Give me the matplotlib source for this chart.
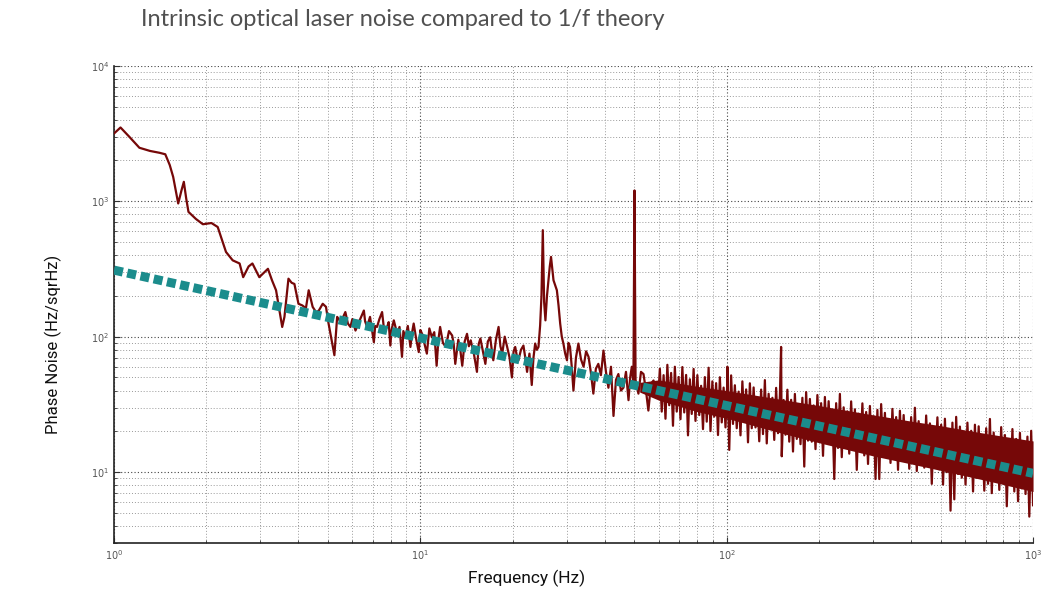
import numpy as np
import matplotlib
matplotlib.use("Agg")
import matplotlib.pyplot as plt
from matplotlib.ticker import LogLocator

# measured trace, 1 - 60 Hz (freq, amplitude)
low_f = [1.00, 1.05, 1.12, 1.21, 1.31, 1.41, 1.47, 1.52, 1.56, 1.62, 1.66, 1.69, 1.72, 1.75,
         1.85, 1.95, 2.08, 2.18, 2.25, 2.32, 2.44, 2.57, 2.64, 2.75, 2.83, 2.98, 3.18, 3.28,
         3.38, 3.54, 3.60, 3.71, 3.80, 3.88, 4.00, 4.12, 4.23, 4.32, 4.45, 4.58, 4.67, 4.80,
         4.92, 5.00, 5.11, 5.24,
         5.35, 5.5, 5.69, 5.8, 5.91, 6.0, 6.14, 6.3, 6.54, 6.6, 6.70, 6.85, 7.05, 7.12, 7.22,
         7.35, 7.50, 7.62, 7.79, 7.88, 7.98, 8.05, 8.19, 8.4, 8.55, 8.71, 8.8, 8.94, 9.1, 9.28,
         9.4, 9.51, 9.7, 9.88, 10.0, 10.13, 10.3, 10.5, 10.7, 10.9, 11.1, 11.3, 11.45, 11.6,
         11.85, 12.1, 12.4, 12.7, 12.85, 13.0, 13.3, 13.5, 13.7, 13.95, 14.2, 14.4, 14.6, 14.95,
         15.3, 15.5, 15.7, 16.0, 16.3, 16.6, 16.9, 17.1, 17.3, 17.65, 18.0, 18.25, 18.5, 18.85,
         19.2, 19.55, 19.9, 20.15, 20.4, 20.65, 20.9, 21.3, 21.7, 22.0, 22.3, 22.7, 23.1, 23.4,
         23.7, 24.0, 24.3, 24.6, 24.85, 25.1, 25.35, 25.6, 25.9, 26.2, 26.45, 26.7, 26.95, 27.2,
         27.55, 27.9, 28.25, 28.6, 28.95, 29.3, 29.7, 30.1, 30.45, 30.8, 31.2, 31.6, 32.2, 32.8,
         33.45, 34.1, 34.75, 35.4, 36.0, 36.7, 37.4, 38.1, 38.85, 39.6, 40.35, 41.1, 41.9, 42.7,
         43.5, 44.3, 45.15, 46.0, 46.9, 47.8, 48.4, 49.0, 49.6, 50.0, 50.4, 51.5, 52.5, 53.5,
         54.5, 55.5, 56.6, 57.7, 58.7, 59.8]
low_v = [3160, 3500, 3000, 2480, 2350, 2275, 2220, 1850, 1510, 962, 1200, 1390, 1050, 834,
         740, 676, 690, 645, 520, 422, 366, 347, 275, 330, 347, 275, 317, 260,
         220, 118, 140, 268, 250, 245, 175, 170, 162, 220, 166, 150, 157, 175,
         166, 130, 99, 73,
         140, 128, 152, 125, 118, 135, 111, 128, 156, 130, 118, 140, 91, 120, 118,
         135, 152, 110, 118, 128, 86, 112, 132, 105, 118, 71, 110, 99, 120, 84,
         108, 125, 95, 77, 112, 105, 90, 75, 115, 99, 108, 61, 95, 118,
         90, 84, 110, 102, 88, 63, 95, 80, 61, 92, 105, 85, 94, 75,
         55, 88, 97, 78, 63, 92, 99, 80, 67, 95, 118, 85, 75, 100,
         84, 70, 50, 78, 84, 72, 67, 80, 86, 70, 55, 75, 44, 70,
         89, 80, 84, 121, 200, 611, 180, 132, 200, 261, 330, 388, 320, 261,
         240, 220, 170, 125, 100, 89, 75, 67, 90, 84, 60, 40, 70, 89,
         68, 60, 78, 71, 55, 38, 58, 63, 52, 79, 55, 42, 60, 26,
         48, 53, 40, 42, 55, 34, 50, 60, 45, 1200, 48, 38, 55, 53,
         40, 28.5, 45, 47.5, 38, 36]

# dense part of the trace, 60.5 - 1000 Hz, 200 samples on a log grid
high_v = [58, 28, 52, 24.8, 62, 31.2, 54, 22, 60, 28,
          50.4, 24.6, 59.7, 27.6, 52.2, 18.7, 48.5, 26.9, 57.8, 23.9,
          52, 26.4, 43.4, 20.8, 50.3, 23.6, 59, 20.1, 46.8, 25.7,
          45.4, 18.8, 50.2, 23.3, 42.1, 21.4, 47, 14.6, 51.8, 22.7,
          43.8, 21.1, 39.3, 18.7, 46.8, 23.6, 40.8, 16.6, 45.3, 21.1,
          42.2, 21.4, 35.1, 16.9, 40.7, 19.1, 47.8, 16.3, 37.9, 20.8,
          35.4, 17.3, 41.9, 19.4, 36.7, 13.1, 34.1, 18.9, 40.6, 16.8,
          34.2, 14.2, 37.8, 17.6, 31.7, 16.1, 35.4, 11.0, 39, 17.1,
          34.7, 16.8, 31.1, 14.8, 37.1, 18.7, 32.3, 13.2, 35.9, 16.8,
          33.4, 16.9, 27.8, 8.9, 32.3, 15.1, 37.8, 12.9, 30.1, 16.5,
          28.1, 13.7, 33.3, 15.4, 29.1, 10.4, 27.0, 15.0, 32.2, 13.3,
          27.8, 11.5, 30.8, 14.3, 25.8, 8.9, 28.8, 8.9, 31.8, 13.9,
          27.4, 13.2, 24.6, 11.7, 29.3, 14.8, 25.5, 10.4, 28.4, 13.2,
          26.4, 13.4, 22.0, 10.6, 25.5, 12.0, 29.9, 10.2, 23.8, 13.0,
          22.1, 10.8, 26.2, 12.1, 22.9, 8.2, 21.3, 11.8, 25.4, 10.5,
          22.4, 8.1, 24.8, 10.0, 20.8, 5.2, 23.2, 6.3, 25.6, 9.7,
          21.7, 9.1, 19.4, 8.1, 23.2, 10.1, 20.2, 7.2, 22.4, 9.1,
          21.8, 9.2, 18.2, 7.3, 21.1, 8.2, 24.7, 7.0, 19.6, 9.0,
          18.1, 7.4, 21.5, 8.3, 18.8, 5.6, 17.5, 8.1, 20.8, 7.2,
          17.6, 6.1, 19.5, 7.6, 16.4, 6.9, 18.3, 4.7, 20.2, 5.7]
high_f = np.geomspace(60.5, 1000, len(high_v))

# solid core of the dense band (where the trace fills in completely)
band_f = [52, 60, 80, 100, 150, 200, 300, 400, 500, 700, 1000]
band_hi = [46, 48, 43, 40, 34.5, 31, 26.5, 23.8, 22, 19.3, 17]
band_lo = [39, 34, 28, 25, 19.5, 16.5, 13.2, 11.5, 10.3, 8.7, 7.2]

# narrow line spurs inside the dense band
spur_f = [100.5, 150.5]
spur_v = [60, 84]

# 1/f theory line end points
theory_f = [1, 1000]
theory_v = [310, 9.8]

freq = np.concatenate([low_f, high_f, spur_f])
amp = np.concatenate([low_v, high_v, spur_v])
order = np.argsort(freq)
freq, amp = freq[order], amp[order]

red = "#760808"

fig = plt.figure(figsize=(10.49, 5.91), dpi=100)
ax = fig.add_axes([0.1087, 0.0812, 0.8761, 0.8076])

ax.fill_between(band_f, band_lo, band_hi, color=red, lw=0, zorder=2.5)
ax.plot(freq, amp, color=red, lw=1.6, zorder=3)
ax.plot(theory_f, theory_v, color="#1b8c8c", lw=6.5, dashes=(1.0, 0.5),
        solid_capstyle="butt", dash_capstyle="butt", zorder=4)

ax.set_xscale("log")
ax.set_yscale("log")
ax.set_xlim(1, 1000)
ax.set_ylim(3, 1e4)

ax.xaxis.set_minor_locator(LogLocator(base=10, subs=np.arange(2, 10)))
ax.yaxis.set_minor_locator(LogLocator(base=10, subs=np.arange(2, 10)))
ax.grid(True, which="major", ls=(0, (1, 2)), color="#444444", lw=0.8)
ax.grid(True, which="minor", ls=(0, (1, 2)), color="#999999", lw=0.7)
ax.tick_params(which="both", direction="in", colors="#333333", labelcolor="#555555",
               labelsize=7)
ax.tick_params(which="major", length=4)
ax.tick_params(which="minor", length=2)

for s in ["top", "right"]:
    ax.spines[s].set_visible(False)
for s in ["left", "bottom"]:
    ax.spines[s].set_color("#222222")
    ax.spines[s].set_linewidth(1.2)

ax.set_xlabel("Frequency (Hz)", fontsize=12.5, family="Roboto", color="#111111")
ax.set_ylabel("Phase Noise (Hz/sqrHz)", fontsize=12, family="Roboto", color="#111111")
ax.xaxis.set_label_coords(0.449, -0.057)
ax.yaxis.set_label_coords(-0.057, 0.417)

fig.text(141 / 1049, 1 - 20 / 591, "Intrinsic optical laser noise compared to 1/f theory",
         ha="left", va="center", fontsize=17, family="Lato", fontweight="normal",
         color="#505050")

fig.savefig("out.png", dpi=100)
